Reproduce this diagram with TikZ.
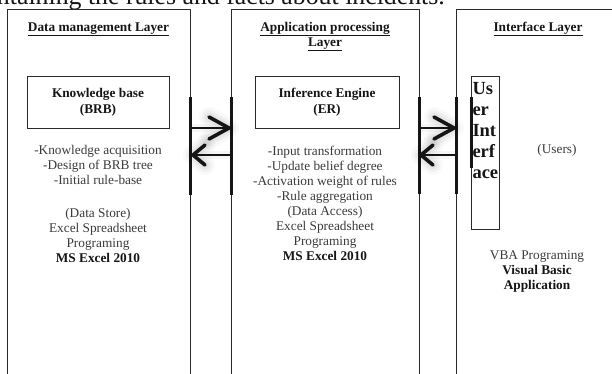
\documentclass[tikz,border=0pt]{standalone}
\usepackage{fontspec}
\setmainfont{Liberation Serif}
\definecolor{ink}{HTML}{151515}
\definecolor{soft}{HTML}{3A3A3A}
\definecolor{frame}{HTML}{2A2A2A}

\begin{document}
\begin{tikzpicture}[x=1pt,y=-1pt,
  every node/.style={inner sep=0pt, outer sep=0pt},
  body/.style={font=\fontsize{13.3}{15}\selectfont, text=soft, align=center},
  heading/.style={font=\fontsize{13.3}{15}\selectfont\bfseries, text=ink, align=center},
  layerbox/.style={draw=frame, line width=0.8pt, anchor=north west},
  innerbox/.style={draw=frame, line width=0.8pt, anchor=north west},
  bar/.style={line width=3pt, draw=ink},
  shaft/.style={line width=1.1pt, draw=ink,
     preaction={draw=black, opacity=0.035, line width=8pt}},
  barb/.style={line width=3.6pt, draw=ink, line cap=round, line join=round,
     preaction={draw=black, opacity=0.025, line width=20pt, line cap=round, line join=round},
     preaction={draw=black, opacity=0.035, line width=14pt, line cap=round, line join=round},
     preaction={draw=black, opacity=0.045, line width=9pt, line cap=round, line join=round}},
]
\useasboundingbox (0,0) rectangle (612,373);
\clip (0,0) rectangle (612,373);

% running text of the page above the figure
\node[font=\fontsize{25.8}{30}\selectfont, text=ink, anchor=base west] (caption) at (-3,4)
  {ntaining the rules and facts about incidents.};

% the three layers (open towards the bottom of the page)
\node[layerbox, minimum width=183pt, minimum height=420pt] (dm) at (7,9) {};
\node[layerbox, minimum width=188pt, minimum height=420pt] (ap) at (231,9) {};
\node[layerbox, minimum width=180pt, minimum height=420pt] (ifc) at (456,9) {};

% layer titles
\node[heading, anchor=base] (dmt) at (98.5,31) {\underline{Data management Layer}};
\node[heading, anchor=base] (apt1) at (325,31) {\underline{Application processing}};
\node[heading, anchor=base] (apt2) at (325,46) {\underline{Layer}};
\node[heading, anchor=base] (ift) at (538,31) {\underline{Interface Layer}};

% inner components
\node[innerbox, minimum width=142pt, minimum height=52pt] (kb) at (27,76) {};
\node[heading, font=\fontsize{13.3}{16}\selectfont\bfseries] (kbt) at (kb.center) {Knowledge base\\(BRB)};
\node[innerbox, minimum width=144pt, minimum height=52pt] (ie) at (255,76) {};
\node[heading, font=\fontsize{13.3}{16}\selectfont\bfseries] (iet) at (ie.center) {Inference Engine\\(ER)};
\node[innerbox, minimum width=28pt, minimum height=153pt] (ui) at (471,76) {};
\node[font=\fontsize{18.5}{21}\selectfont\bfseries, text=ink, align=left, anchor=west] (uit) at (472.5,131)
  {Us\\er\\Int\\erf\\ace};

% descriptions
\node[body] (dmd) at (98,165) {-Knowledge acquisition\\-Design of BRB tree\\-Initial rule-base};
\node[body] (dmk) at (98,235) {(Data Store)\\Excel Spreadsheet\\Programing\\{\color{ink}\bfseries MS Excel 2010}};
\node[body] (apd) at (325,203) {-Input transformation\\-Update belief degree\\-Activation weight of rules\\-Rule aggregation\\(Data Access)\\Excel Spreadsheet\\Programing\\{\color{ink}\bfseries MS Excel 2010}};
\node[body] (usr) at (557,150) {(Users)};
\node[body] (ifd) at (537,272) {VBA Programing\\{\color{ink}\bfseries Visual Basic}\\{\color{ink}\bfseries Application}};

% heavy bars where the layers meet
\coordinate (b1a) at (190,97);  \coordinate (b1b) at (190,195);
\coordinate (b2a) at (231,97);  \coordinate (b2b) at (231,195);
\coordinate (b3a) at (419,97);  \coordinate (b3b) at (419,194);
\coordinate (b4a) at (456,97);  \coordinate (b4b) at (456,194);
\coordinate (b5a) at (471,97);  \coordinate (b5b) at (471,168);
\foreach \s/\e in {b1a/b1b,b2a/b2b,b3a/b3b,b4a/b4b,b5a/b5b}
  \draw[bar] (\s) -- (\e);

% request / response arrows between the layers
\coordinate (r1s) at (190,128); \coordinate (r1t) at (229,128);
\coordinate (l1s) at (233,155); \coordinate (l1t) at (193,155);
\coordinate (r2s) at (419,128); \coordinate (r2t) at (454,128);
\coordinate (l2s) at (456,155); \coordinate (l2t) at (421,155);

\draw[shaft] (r1s) -- (r1t);
\draw[barb] (r1t) ++(-20,-11) -- (r1t) -- ++(-20,11);
\draw[shaft] (l1s) -- (l1t);
\draw[barb] (l1t) ++(12,-10) -- (l1t) -- ++(12,10);
\draw[shaft] (r2s) -- (r2t);
\draw[barb] (r2t) ++(-20,-11) -- (r2t) -- ++(-20,11);
\draw[shaft] (l2s) -- (l2t);
\draw[barb] (l2t) ++(12,-10) -- (l2t) -- ++(12,10);
\end{tikzpicture}
\end{document}
